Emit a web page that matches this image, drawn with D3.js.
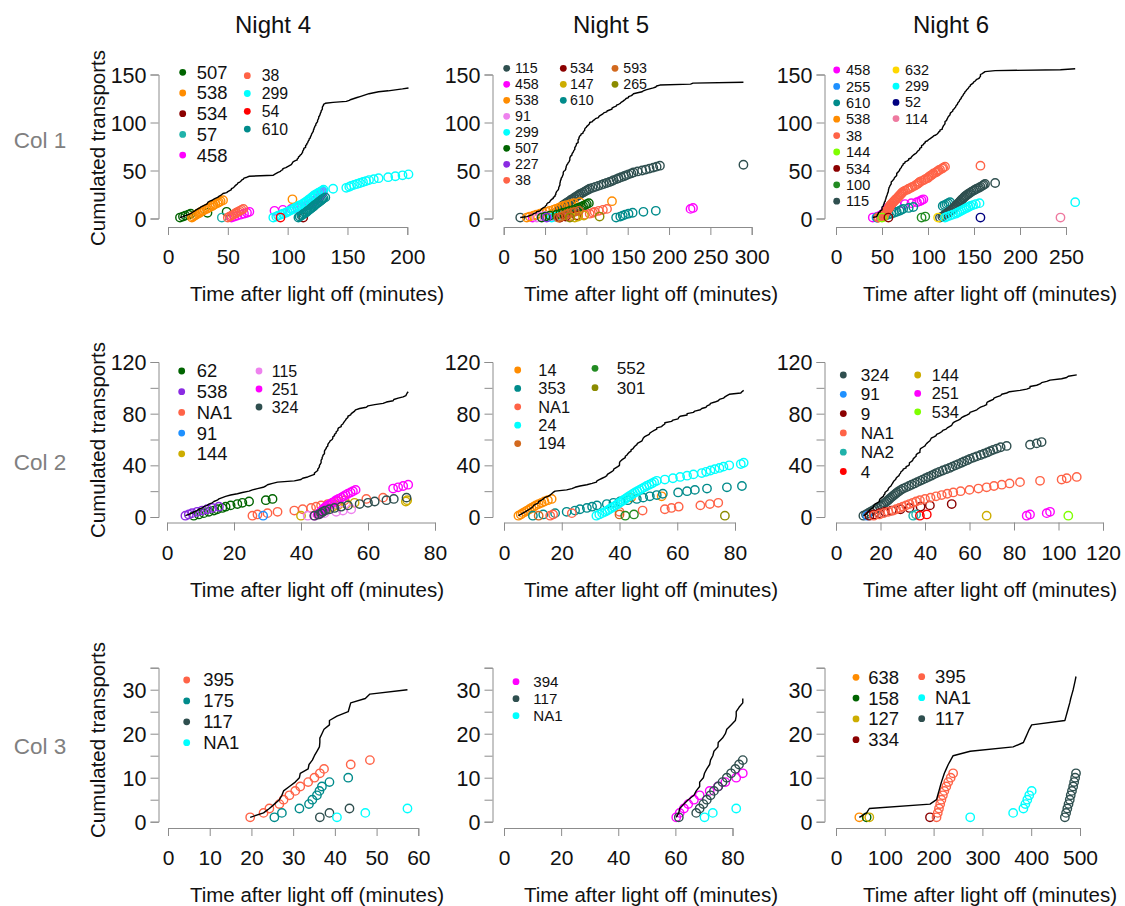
<!DOCTYPE html>
<html><head><meta charset="utf-8">
<script src="https://cdn.jsdelivr.net/npm/d3@7"></script>
<style>
html,body{margin:0;padding:0;background:#fff;}
svg{display:block;font-family:"Liberation Sans",Arial,sans-serif;}
</style></head><body>
<svg id="chart" width="1125" height="906"></svg>
<script>
// ---------------- DATA (times in minutes of each transport, per individual) ----------------
const nightTitles = ["Night 4", "Night 5", "Night 6"];
const rowTitles = ["Col 1", "Col 2", "Col 3"];
const xTitle = "Time after light off (minutes)";
const yTitle = "Cumulated transports";

// Row 1 (Col 1)
const r1n4_labels = ["507","538","534","57","458","38","299","54","610"];
const r1n4_times = [
  [10, 12.5, 14.5, 17, 19, 33, 49],
  [20, 21, 22.5, 23.5, 25, 26.5, 27.5, 29, 30.5, 32.5, 33.5, 35, 37, 38, 39.5, 41.5, 42.5, 44, 46, 104],
  [113],
  [45],
  [53, 55.5, 58, 61, 63.5, 66, 68, 89, 96, 103, 108, 112, 115, 117, 119, 120.5, 121.5, 122.5, 123.5, 124.5, 125.3, 126, 126.7, 127.3, 128, 128.5, 129, 129.5],
  [50, 51.5, 53, 54.5, 56, 57, 58.5, 60, 61.5, 63],
  [88, 90.5, 92, 94.5, 96, 98.5, 100, 101.5, 103.5, 104.5, 106, 108, 109, 110.5, 112.5, 113.5, 115, 116, 117.5, 118, 119.5, 120, 121.5, 122, 123.5, 125, 126, 127.5, 129, 130, 138, 149, 151.5, 153, 155.5, 158, 160.5, 163, 165.5, 168, 172, 176, 184, 190, 196, 201],
  [94],
  [109, 110, 111.5, 112.5, 113.5, 115, 116, 116.8, 118, 119, 119.8, 121, 122, 122.7, 123.8, 125, 125.8, 127, 128, 129, 130, 131.5]
];
const r1n4_xticks = [0, 50, 100, 150, 200];

const r1n5_labels = ["115","458","538","91","299","507","227","38","534","147","610","593","265"];
const r1n5_times = [
  [20, 53, 57, 60, 62, 63.5, 65, 66.5, 67.5, 68.5, 69.5, 70.5, 71.5, 72, 74, 75.5, 77.5, 79.5, 81, 82.5, 84.5, 86, 88, 90, 91.5, 93.5, 96, 98, 100, 102, 104, 107.5, 111, 114.5, 118, 121, 124.5, 128, 131, 133, 136.5, 139, 142, 145.5, 148, 151, 154.5, 157, 162, 167.5, 172, 176.5, 181, 185, 189, 290],
  [35, 62, 67, 71, 75, 79, 83, 87, 91, 226, 229],
  [28, 31.5, 36, 39.5, 44, 47.5, 52, 55.5, 60, 63, 66.5, 69, 72.5, 76, 80.5, 85, 92, 131],
  [40, 45, 50],
  [58, 63, 68],
  [46, 50.5, 56, 64, 68.5, 72, 76.5, 80, 84, 87.5, 90, 93.5, 96, 98.5, 100.5, 103],
  [52],
  [68, 80, 90, 98, 104, 108, 110, 115, 120, 125],
  [68, 75, 88],
  [86, 90, 97],
  [136, 141, 144, 147, 151, 156, 169, 184],
  [66, 69.5, 72, 75.5, 78, 82.5, 86, 91],
  [80, 116]
];
const r1n5_xticks = [0, 50, 100, 150, 200, 250, 300];

const r1n6_labels = ["458","255","610","538","38","144","534","100","115","632","299","52","114"];
const r1n6_times = [
  [40, 45, 48, 50, 51.5, 52.5, 53.5, 54.3, 55, 55.7, 56.5, 57.5, 60, 66, 75, 82, 88, 91, 93, 95],
  [44],
  [45, 50, 54, 57, 60, 63, 66, 69, 71, 73, 79, 84, 116, 118, 120, 122, 124],
  [46, 52],
  [46, 48, 50, 51.5, 52.5, 53.5, 54.5, 55.3, 56, 56.8, 57.5, 58.2, 58.6, 59.3, 60, 61.2, 62, 63.3, 64, 65.2, 66, 67.3, 68, 69.2, 70, 71.3, 72, 73, 75, 77.5, 79, 81.5, 83, 85.5, 87, 88.5, 90, 91, 93, 95.5, 97, 99.5, 100.5, 102, 103.5, 105, 106, 108.5, 110, 111.5, 113, 115.5, 116.5, 118.5, 157],
  [50],
  [57],
  [93, 97],
  [113, 115.5, 117, 118.5, 120.5, 121.5, 123, 124.5, 125.7, 127, 128.2, 129, 130.3, 131, 132.2, 133, 134.3, 135, 136.2, 137, 138.3, 139, 140.2, 141.5, 143, 144.5, 146, 147.5, 149.5, 151, 153, 155.5, 157, 159, 160.5, 162, 173],
  [111],
  [118.5, 121, 124, 127, 130, 132, 134, 136, 138, 140, 142, 144, 146, 149, 152, 156, 260],
  [157],
  [244]
];
const r1n6_xticks = [0, 50, 100, 150, 200, 250];

// Row 2 (Col 2)
const r2n4_labels = ["62","538","NA1","91","144","115","251","324"];
const r2n4_times = [
  [8, 9.5, 11, 12.5, 14, 15, 16.5, 17.5, 19, 21, 22.5, 24.5, 29.5, 31.5],
  [5.5, 6.5, 7.5, 9, 10.5, 12, 13.5, 15.5],
  [25.5, 27, 30, 33, 38, 40.5, 43, 44.5, 46, 48, 49.5, 51, 53, 59.5, 64.5],
  [28.7],
  [40, 45, 45.8, 46.3, 47, 47.6, 48.2, 49.5, 51, 53.5, 56, 71.3, 71.7],
  [42, 45.5, 47, 50.5, 52.5, 55],
  [44, 45, 45.5, 46, 46.3, 46.6, 47, 47.5, 48, 48.7, 49.3, 50, 50.5, 51.2, 52, 52.7, 53.3, 54, 54.8, 55.5, 56.3, 67.5, 69, 70.5, 72],
  [44, 45.3, 46, 46.5, 47.2, 48.5, 50, 52, 54, 57.5, 60, 62, 65.5, 67.7, 71.5]
];
const r2n4_xticks = [0, 20, 40, 60, 80];

const r2n5_labels = ["14","353","NA1","24","194","552","301"];
const r2n5_times = [
  [5, 5.8, 6.5, 7.3, 8, 8.8, 9.5, 10.3, 11, 12, 13, 14, 15.2, 16.5, 44, 54.6],
  [10, 13.6, 17.7, 21.7, 24.6, 26.3, 28.7, 30.5, 32.2, 35.6, 37.9, 40.2, 42.9, 46, 48.2, 50.5, 52.9, 55, 60.3, 63.4, 66.1, 70.3, 77.2, 82.4],
  [16, 17, 23.5, 40, 48, 55.7, 58, 60.5, 68, 71.3, 74.2],
  [32, 33, 34, 35, 35.8, 36.5, 37.2, 38, 38.7, 39.4, 40, 40.7, 41.3, 42, 42.6, 43.3, 44, 44.7, 45.4, 46.2, 47, 47.8, 48.6, 49.4, 50.3, 51.2, 52, 52.9, 55.7, 58.5, 61, 63.4, 65.6, 68.5, 70, 71.5, 73, 74.6, 76, 78, 82, 83],
  [12, 40],
  [42, 45],
  [76.5]
];
const r2n5_xticks = [0, 20, 40, 60, 80];

const r2n6_labels = ["324","91","9","NA1","NA2","4","144","251","534"];
const r2n6_times = [
  [12.3, 13.5, 14.5, 15.5, 16.5, 17.5, 18.5, 19.8, 20.5, 21.3, 22, 22.7, 23.4, 24, 24.7, 25.4, 26.1, 26.8, 27.5, 28.3, 29.2, 30.2, 31.5, 32.8, 34, 35.3, 36.5, 37.8, 39, 40.3, 41.5, 42.8, 44, 45.2, 46.5, 48, 49.5, 51, 52.3, 53.7, 55, 56.4, 57.6, 59, 60.2, 61.8, 63.3, 65, 66.5, 68, 69.3, 70.7, 72.3, 74, 76.7, 87.2, 90.2, 92.4],
  [14],
  [15, 17, 19.5, 22, 25, 29, 33, 38, 42.2, 52],
  [17, 19.5, 21.5, 23.5, 25.7, 27, 28.5, 30, 31.5, 33, 34.5, 36, 37.7, 40, 42.5, 45, 47.5, 50, 52.7, 56, 60, 64, 67.7, 71, 74.5, 78, 82.7, 91.7, 101.4, 103.7, 108.2],
  [34.7, 36],
  [37.7, 40.8],
  [67.7],
  [85.7, 87.2, 94.7, 96.2],
  [104.4]
];
const r2n6_xticks = [0, 20, 40, 60, 80, 100, 120];

// Row 3 (Col 3)
const r3n4_labels = ["395","175","117","NA1"];
const r3n4_times = [
  [19.7, 22.9, 24.3, 26.7, 27.7, 29.1, 30.5, 31.7, 33.6, 35.1, 36.4, 37.4, 43.8, 48.4],
  [25.5, 27.3, 31.5, 33.8, 34.6, 35.7, 36.3, 36.9, 38.7, 43.2],
  [36.4, 38.7, 43.5],
  [40.5, 47.3, 57.4]
];
const r3n4_xticks = [0, 10, 20, 30, 40, 50, 60];

const r3n5_labels = ["394","117","NA1"];
const r3n5_times = [
  [60.3, 61.5, 63, 64.5, 66.5, 68.5, 72, 74.9, 77.5, 81.3, 83.6],
  [61.2, 67.3, 68.5, 69.8, 71, 72.3, 73.5, 75, 76.5, 78, 79.5, 81, 82.3, 83.6],
  [70.2, 73.1, 81.3]
];
const r3n5_xticks = [0, 20, 40, 60, 80];

const r3n6_labels = ["638","158","127","334","395","NA1","117"];
const r3n6_times = [
  [47.8],
  [62.8],
  [68.3],
  [192.6],
  [206, 208.5, 211, 213.5, 216, 219, 222, 226, 230, 235, 240],
  [275, 363, 384, 388, 392, 396, 401],
  [469, 471.5, 474, 476.5, 479, 481, 483.5, 486, 488, 490, 491.8]
];
const r3n6_xticks = [0, 100, 200, 300, 400, 500];

const row1_yticks = [0, 50, 100, 150];
const row1_ylabels = [0, 50, 100, 150];
const row2_yticks = [0, 20, 40, 60, 80, 100, 120];
const row2_ylabels = [0, 40, 80, 120];
const row3_yticks = [0, 5, 10, 15, 20, 25, 30, 35];
const row3_ylabels = [0, 10, 20, 30];

// ---------------- STYLE (colours per series) ----------------
const r1n4_colors = ["#006400","#FF8C00","#8B0000","#20B2AA","#FF00FF","#FF6347","#00FFFF","#FF0000","#008B8B"];
const r1n5_colors = ["#2F4F4F","#FF00FF","#FF8C00","#EE82EE","#00FFFF","#006400","#8A2BE2","#FF6347","#8B0000","#CDAD00","#008B8B","#D2691E","#8B8B00"];
const r1n6_colors = ["#FF00FF","#1E90FF","#008B8B","#FF8C00","#FF6347","#7FFF00","#8B0000","#228B22","#2F4F4F","#FFD700","#00FFFF","#000080","#EE799F"];
const r2n4_colors = ["#006400","#8A2BE2","#FF6347","#1E90FF","#CDAD00","#EE82EE","#FF00FF","#2F4F4F"];
const r2n5_colors = ["#FF8C00","#008B8B","#FF6347","#00FFFF","#D2691E","#228B22","#8B8B00"];
const r2n6_colors = ["#2F4F4F","#1E90FF","#8B0000","#FF6347","#20B2AA","#FF0000","#CDAD00","#FF00FF","#7FFF00"];
const r3n4_colors = ["#FF6347","#008B8B","#2F4F4F","#00FFFF"];
const r3n5_colors = ["#FF00FF","#2F4F4F","#00FFFF"];
const r3n6_colors = ["#FF8C00","#006400","#CDAD00","#8B0000","#FF6347","#00FFFF","#2F4F4F"];

// ---------------- LAYOUT ----------------
const rowGeom = [
  {y0: 218.5, y1: 74.5, yticks: row1_yticks, ylabels: row1_ylabels, xAxisY: 227, colLabelY: 140, yTitleY: 148},
  {y0: 517, y1: 362, yticks: row2_yticks, ylabels: row2_ylabels, xAxisY: 522.5, colLabelY: 462, yTitleY: 440},
  {y0: 821.7, y1: 667.7, yticks: row3_yticks, ylabels: row3_ylabels, xAxisY: 828, colLabelY: 746, yTitleY: 740}
];
const colGeom = [
  {yAxisX: 158.5, titleX: 317, nightX: 273},
  {yAxisX: 492.5, titleX: 651, nightX: 611},
  {yAxisX: 824.5, titleX: 990, nightX: 951}
];

const panels = [
  {row:0, col:0, labels:r1n4_labels, times:r1n4_times, colors:r1n4_colors, xticks:r1n4_xticks, xr:[168, 407.3],
   legend:[{n:5, dx:182.7, tx:196.7, y0:72.3, dy:20.7},{n:4, dx:247.3, tx:261.7, y0:75.7, dy:17.8}]},
  {row:0, col:1, labels:r1n5_labels, times:r1n5_times, colors:r1n5_colors, xticks:r1n5_xticks, xr:[503.7, 751.7],
   legend:[{n:8, dx:506.7, tx:515, y0:68.3, dy:16},{n:3, dx:563.3, tx:570, y0:68.3, dy:16},{n:2, dx:615, tx:623.3, y0:68.3, dy:16}]},
  {row:0, col:2, labels:r1n6_labels, times:r1n6_times, colors:r1n6_colors, xticks:r1n6_xticks, xr:[836, 1066],
   legend:[{n:9, dx:836.7, tx:846, y0:70, dy:16.4},{n:4, dx:896, tx:905, y0:70, dy:16.2}]},
  {row:1, col:0, labels:r2n4_labels, times:r2n4_times, colors:r2n4_colors, xticks:r2n4_xticks, xr:[167, 435],
   legend:[{n:5, dx:181.7, tx:196.7, y0:371, dy:20.7},{n:3, dx:259, tx:271.7, y0:371, dy:18}]},
  {row:1, col:1, labels:r2n5_labels, times:r2n5_times, colors:r2n5_colors, xticks:r2n5_xticks, xr:[504, 735],
   legend:[{n:5, dx:517.7, tx:538.3, y0:370, dy:18.4},{n:2, dx:595, tx:616.7, y0:368.3, dy:19.4}]},
  {row:1, col:2, labels:r2n6_labels, times:r2n6_times, colors:r2n6_colors, xticks:r2n6_xticks, xr:[836, 1103],
   legend:[{n:6, dx:843.3, tx:860.7, y0:375, dy:19.3},{n:3, dx:917.7, tx:931.7, y0:375, dy:18.4}]},
  {row:2, col:0, labels:r3n4_labels, times:r3n4_times, colors:r3n4_colors, xticks:r3n4_xticks, xr:[168, 418.3],
   legend:[{n:4, dx:186.7, tx:203.3, y0:680, dy:20.9}]},
  {row:2, col:1, labels:r3n5_labels, times:r3n5_times, colors:r3n5_colors, xticks:r3n5_xticks, xr:[504, 732.5],
   legend:[{n:3, dx:516, tx:533.3, y0:681.7, dy:17}]},
  {row:2, col:2, labels:r3n6_labels, times:r3n6_times, colors:r3n6_colors, xticks:r3n6_xticks, xr:[836, 1080],
   legend:[{n:4, dx:856, tx:868.3, y0:677.3, dy:20.8},{n:3, dx:921.7, tx:935, y0:676.7, dy:21}]}
];

const AXIS_COL = "#8c8c8c", TEXT_COL = "#111";
const svg = d3.select("#chart");

// Night titles
nightTitles.forEach((t, i) => {
  svg.append("text").attr("x", colGeom[i].nightX).attr("y", 25).attr("dy", "0.35em")
    .attr("text-anchor", "middle").attr("font-size", 24).attr("fill", TEXT_COL).text(t);
});
// Row titles
rowTitles.forEach((t, i) => {
  svg.append("text").attr("x", 40).attr("y", rowGeom[i].colLabelY).attr("dy", "0.35em")
    .attr("text-anchor", "middle").attr("font-size", 22.5).attr("fill", "#808080").text(t);
});

panels.forEach(p => {
  const rg = rowGeom[p.row], cg = colGeom[p.col];
  const x = d3.scaleLinear().domain([0, p.xticks[p.xticks.length - 1]]).range(p.xr);
  const y = d3.scaleLinear().domain([0, rg.yticks[rg.yticks.length - 1]]).range([rg.y0, rg.y1]);
  const g = svg.append("g");

  // x axis
  const xa = g.append("g").attr("transform", `translate(0,${rg.xAxisY})`)
    .call(d3.axisBottom(x).tickValues(p.xticks).tickSizeOuter(0).tickSize(8).tickFormat(d3.format("d")));
  xa.select(".domain").attr("stroke", AXIS_COL);
  xa.selectAll(".tick line").attr("stroke", AXIS_COL);
  xa.selectAll(".tick text").attr("y", 30).attr("dy", "0.35em").attr("font-size", 21)
    .attr("fill", TEXT_COL).attr("font-family", "Liberation Sans, Arial, sans-serif");

  // y axis
  const ya = g.append("g").attr("transform", `translate(${cg.yAxisX},0)`)
    .call(d3.axisLeft(y).tickValues(rg.yticks).tickSizeOuter(0).tickSize(8)
      .tickFormat(d => rg.ylabels.includes(d) ? String(d) : ""));
  ya.select(".domain").attr("stroke", AXIS_COL);
  ya.selectAll(".tick line").attr("stroke", AXIS_COL);
  ya.selectAll(".tick text").attr("x", -12).attr("dy", "0.35em").attr("font-size", 21.5)
    .attr("fill", TEXT_COL).attr("font-family", "Liberation Sans, Arial, sans-serif");

  // x title
  g.append("text").attr("x", cg.titleX).attr("y", rg.xAxisY + 67).attr("dy", "0.35em")
    .attr("text-anchor", "middle").attr("font-size", 20.5).attr("fill", TEXT_COL).text(xTitle);
  // y title (first column only)
  if (p.col === 0) {
    g.append("text").attr("transform", `translate(98,${rg.yTitleY}) rotate(-90)`).attr("dy", "0.35em")
      .attr("text-anchor", "middle").attr("font-size", 20.5).attr("fill", TEXT_COL).text(yTitle);
  }

  // points: cumulative count per individual
  p.times.forEach((arr, si) => {
    const pts = arr.map((t, i) => ({t: t, c: i + 1}));
    g.append("g").selectAll("circle").data(pts).join("circle")
      .attr("cx", d => x(d.t)).attr("cy", d => y(d.c)).attr("r", 4.2)
      .attr("fill", "none").attr("stroke", p.colors[si]).attr("stroke-width", 1.4);
  });

  // total cumulated line (all individuals pooled)
  const all = p.times.flat().slice().sort((a, b) => a - b).map((t, i) => ({t: t, c: i + 1}));
  g.append("path").datum(all)
    .attr("d", d3.line().x(d => x(d.t)).y(d => y(d.c)))
    .attr("fill", "none").attr("stroke", "#000").attr("stroke-width", 1.4).attr("stroke-linejoin", "round");

  // legend (font sized so that neighbouring rows never overlap)
  let k = 0;
  p.legend.forEach(col => {
    const fs = Math.min(18.5, col.dy / 1.125);
    for (let j = 0; j < col.n; j++, k++) {
      const yy = col.y0 + j * col.dy;
      g.append("circle").attr("cx", col.dx).attr("cy", yy).attr("r", 3.4).attr("fill", p.colors[k]);
      g.append("text").attr("x", col.tx).attr("y", yy).attr("dy", "0.35em")
        .attr("font-size", fs).attr("fill", TEXT_COL).text(p.labels[k]);
    }
  });
});
</script>
</body></html>
